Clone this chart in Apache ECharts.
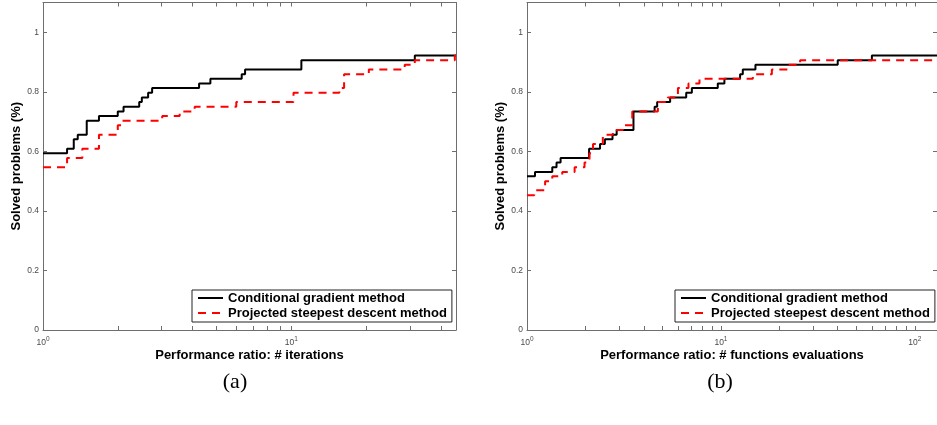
<!DOCTYPE html>
<html>
<head>
<meta charset="utf-8">
<script src="https://cdn.jsdelivr.net/npm/echarts@6/dist/echarts.min.js"></script>
<style>html,body{margin:0;padding:0;background:#fff}#c{width:937px;height:425px}</style>
</head>
<body>
<div id="c"></div>
<script>
// ---- Data ----
var seriesNames = ['Conditional gradient method', 'Projected steepest descent method'];

// (a) Performance ratio: # iterations
var iterCondX = [1, 1.25, 1.33, 1.38, 1.50, 1.68, 2.00, 2.11, 2.44, 2.50, 2.65, 2.75, 4.25, 4.72, 6.31, 6.51, 10.97, 31.4, 46];
var iterCondY = [0.594, 0.609, 0.641, 0.656, 0.703, 0.719, 0.734, 0.750, 0.766, 0.781, 0.797, 0.813, 0.828, 0.844, 0.859, 0.875, 0.906, 0.922, 0.922];
var iterProjX = [1, 1.25, 1.44, 1.68, 2.00, 2.09, 3.02, 3.55, 4.08, 6.00, 10.2, 15.6, 16.3, 20.5, 28.6, 31.4, 45.5, 46];
var iterProjY = [0.547, 0.578, 0.609, 0.656, 0.688, 0.703, 0.719, 0.734, 0.750, 0.766, 0.797, 0.813, 0.859, 0.875, 0.891, 0.906, 0.922, 0.922];

// (b) Performance ratio: # functions evaluations
var fevCondX = [1, 1.10, 1.35, 1.42, 1.49, 2.09, 2.38, 2.52, 2.76, 2.90, 3.54, 4.55, 4.69, 5.47, 6.62, 7.08, 9.63, 10.42, 12.55, 12.96, 15.06, 40.0, 60.0, 130];
var fevCondY = [0.516, 0.531, 0.547, 0.563, 0.578, 0.609, 0.625, 0.641, 0.656, 0.672, 0.734, 0.750, 0.766, 0.781, 0.797, 0.813, 0.828, 0.844, 0.859, 0.875, 0.891, 0.906, 0.922, 0.922];
var fevProjX = [1, 1.09, 1.24, 1.35, 1.52, 1.76, 1.98, 2.10, 2.19, 2.46, 2.77, 3.12, 3.49, 4.73, 5.32, 6.00, 6.80, 7.75, 14.6, 18.3, 22.1, 25.6, 130];
var fevProjY = [0.453, 0.469, 0.500, 0.516, 0.531, 0.547, 0.563, 0.594, 0.625, 0.656, 0.672, 0.688, 0.734, 0.766, 0.781, 0.813, 0.828, 0.844, 0.859, 0.875, 0.891, 0.906, 0.906];

// Tick values / labels
var yTicks = [0, 0.2, 0.4, 0.6, 0.8, 1];
var xTicksA = [1, 2, 3, 4, 5, 6, 7, 8, 9, 10, 20, 30, 40];
var xTicksB = [1, 2, 3, 4, 5, 6, 7, 8, 9, 10, 20, 30, 40, 50, 60, 70, 80, 90, 100];
var xLabelsA = [1, 10];
var xLabelsB = [1, 10, 100];
var xNames = ['Performance ratio: # iterations', 'Performance ratio: # functions evaluations'];
var yName = 'Solved problems (%)';
var captions = ['(a)', '(b)'];

function zip(xs, ys) { return xs.map(function (x, i) { return [x, ys[i]]; }); }

var FONT = 'Liberation Sans, Arial, Helvetica, sans-serif';
var AXIS_COLOR = '#6e6e6e';
var LABEL_COLOR = '#4a4a4a';

function expLabel(v) {
  var e = Math.round(Math.log10(v));
  return '{b|10}{s|' + e + '}';
}
var expRich = {
  b: { fontSize: 8.5, fontFamily: FONT, color: LABEL_COLOR },
  s: { fontSize: 6.5, fontFamily: FONT, color: LABEL_COLOR, padding: [0, 0, 7, 0] }
};

function xAxisPair(gridIndex, max, ticks, labels, name) {
  var common = {
    type: 'log', logBase: 10, min: 1, max: max, gridIndex: gridIndex,
    splitLine: { show: false },
    axisLine: { show: true, onZero: false, lineStyle: { color: AXIS_COLOR, width: 1 } },
    axisTick: { show: true, inside: true, length: 4, customValues: ticks, lineStyle: { color: AXIS_COLOR } },
    minorTick: { show: false }
  };
  var bottom = Object.assign({}, common, {
    position: 'bottom',
    name: name, nameLocation: 'middle', nameGap: 19, nameMoveOverlap: false,
    nameTextStyle: { fontFamily: FONT, fontWeight: 'bold', fontSize: 13, color: '#000' },
    axisLabel: { show: true, customValues: labels, margin: 6, formatter: expLabel, rich: expRich }
  });
  var top = Object.assign({}, common, {
    position: 'top',
    axisLabel: { show: false }
  });
  return [bottom, top];
}

function yAxisPair(gridIndex, showRight) {
  var common = {
    type: 'value', min: 0, max: 1.1, gridIndex: gridIndex,
    splitLine: { show: false },
    axisLine: { show: true, onZero: false, lineStyle: { color: AXIS_COLOR, width: 1 } },
    axisTick: { show: true, inside: true, length: 4, customValues: yTicks, lineStyle: { color: AXIS_COLOR } }
  };
  var left = Object.assign({}, common, {
    position: 'left',
    name: yName, nameLocation: 'middle', nameGap: 20,
    nameTextStyle: { fontFamily: FONT, fontWeight: 'bold', fontSize: 13, color: '#000' },
    axisLabel: { show: true, customValues: yTicks, margin: 4, fontSize: 8.5, fontFamily: FONT, color: LABEL_COLOR,
      formatter: function (v) { return String(Math.round(v * 10) / 10); } }
  });
  var right = Object.assign({}, common, {
    position: 'right',
    show: showRight,
    axisLabel: { show: false }
  });
  return [left, right];
}

var xa = xAxisPair(0, 46, xTicksA, xLabelsA, xNames[0]);
var xb = xAxisPair(1, 130, xTicksB, xLabelsB, xNames[1]);
var ya = yAxisPair(0, true);
var yb = yAxisPair(1, true);

function lineSeries(name, data, xIdx, yIdx, dashed) {
  return {
    name: name, type: 'line', step: 'end', data: data,
    xAxisIndex: xIdx, yAxisIndex: yIdx,
    symbol: 'none', showSymbol: false, clip: true,
    color: dashed ? '#ff0000' : '#000000',
    lineStyle: { width: 2, color: dashed ? '#ff0000' : '#000000', type: dashed ? [8, 6] : 'solid' },
    emphasis: { disabled: true }
  };
}

function legendAt(left) {
  return {
    left: left, top: 290, orient: 'vertical',
    data: seriesNames,
    itemWidth: 25, itemHeight: 14, itemGap: 1,
    padding: [1, 5, 2, 5],
    borderColor: '#222', borderWidth: 1, backgroundColor: '#fff',
    selectedMode: false,
    itemStyle: { opacity: 0 },
    textStyle: { fontFamily: FONT, fontWeight: 'bold', fontSize: 13, color: '#000', lineHeight: 14 }
  };
}

var option = {
  animation: false,
  backgroundColor: '#fff',
  grid: [
    { left: 43, top: 2.5, width: 413, height: 327.5, containLabel: false },
    { left: 527, top: 2.5, width: 411, height: 327.5, containLabel: false }
  ],
  xAxis: [xa[0], xa[1], xb[0], xb[1]],
  yAxis: [ya[0], ya[1], yb[0], yb[1]],
  legend: [legendAt(192), legendAt(675)],
  title: [
    { text: captions[0], left: 230, top: 366, textAlign: 'center',
      textStyle: { fontFamily: 'Liberation Serif, DejaVu Serif, serif', fontWeight: 'normal', fontSize: 22, color: '#000' } },
    { text: captions[1], left: 715, top: 366, textAlign: 'center',
      textStyle: { fontFamily: 'Liberation Serif, DejaVu Serif, serif', fontWeight: 'normal', fontSize: 22, color: '#000' } }
  ],
  series: [
    lineSeries(seriesNames[0], zip(iterCondX, iterCondY), 0, 0, false),
    lineSeries(seriesNames[1], zip(iterProjX, iterProjY), 0, 0, true),
    lineSeries(seriesNames[0], zip(fevCondX, fevCondY), 2, 2, false),
    lineSeries(seriesNames[1], zip(fevProjX, fevProjY), 2, 2, true)
  ]
};

var chart = echarts.init(document.getElementById('c'), null, { renderer: 'canvas' });
chart.setOption(option);
</script>
</body>
</html>
